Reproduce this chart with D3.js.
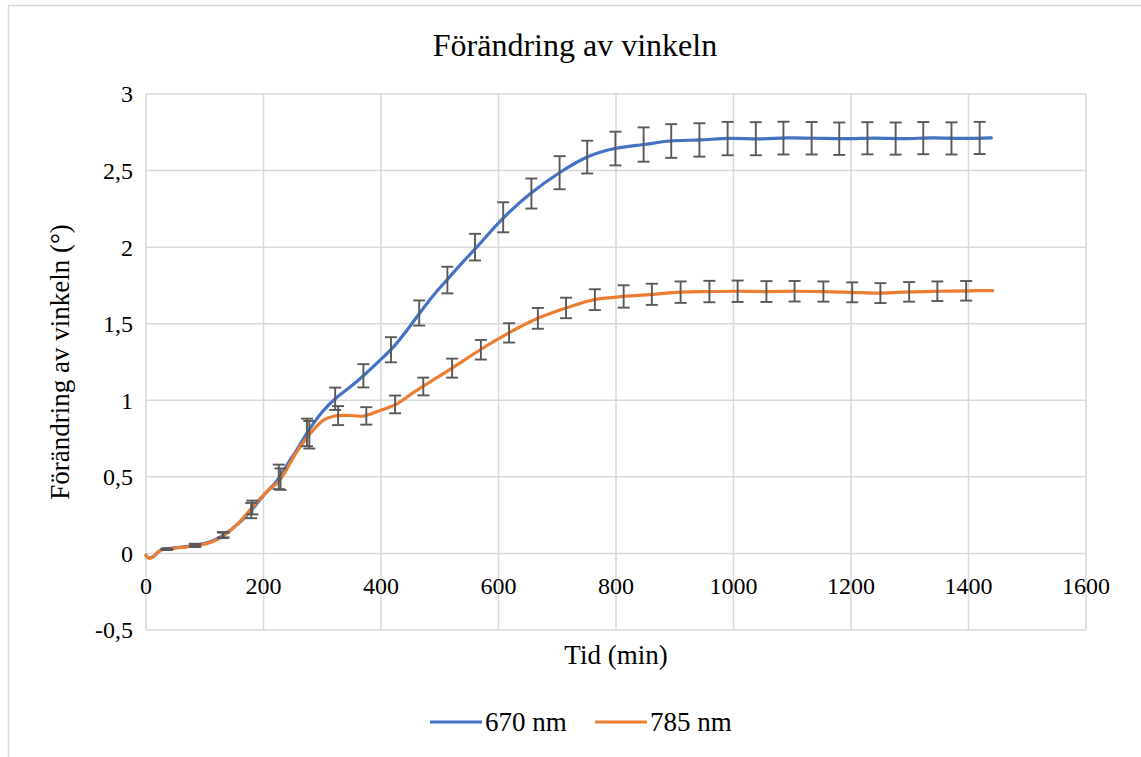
<!DOCTYPE html>
<html>
<head>
<meta charset="utf-8">
<script src="https://cdn.jsdelivr.net/npm/d3@7"></script>
<style>
  body { margin: 0; background: #fff; }
</style>
</head>
<body>
<svg id="chart"></svg>
<script>
// 670 nm series (time in min, change in degrees)
const time670 = [0, 4, 12, 21, 27, 46, 70, 92, 115, 137, 160, 183, 205, 222, 245, 256, 279, 302, 325, 347, 370, 398, 421, 444, 466, 489, 512, 540, 563, 608, 654, 705, 750, 773, 801, 847, 892, 943, 994, 1045, 1091, 1136, 1190, 1240, 1290, 1340, 1390, 1439];
const value670 = [-0.012, -0.028, -0.022, 0.01, 0.026, 0.035, 0.046, 0.059, 0.085, 0.133, 0.204, 0.3, 0.4, 0.47, 0.607, 0.672, 0.815, 0.933, 1.02, 1.085, 1.16, 1.26, 1.347, 1.456, 1.57, 1.684, 1.785, 1.905, 2.0, 2.19, 2.348, 2.489, 2.587, 2.62, 2.646, 2.67, 2.693, 2.7, 2.71, 2.707, 2.713, 2.711, 2.708, 2.712, 2.709, 2.713, 2.71, 2.714];

// 785 nm series
const time785 = [0, 4, 12, 21, 27, 46, 70, 92, 115, 137, 160, 183, 205, 228, 256, 279, 302, 319, 342, 370, 398, 427, 455, 483, 500, 523, 569, 620, 665, 716, 761, 812, 864, 909, 960, 1005, 1056, 1102, 1150, 1200, 1250, 1300, 1350, 1400, 1441];
const value785 = [-0.012, -0.03, -0.022, 0.01, 0.024, 0.033, 0.043, 0.055, 0.08, 0.13, 0.21, 0.31, 0.4, 0.48, 0.66, 0.78, 0.87, 0.896, 0.902, 0.897, 0.933, 0.977, 1.05, 1.118, 1.16, 1.215, 1.33, 1.445, 1.532, 1.604, 1.656, 1.678, 1.692, 1.706, 1.71, 1.712, 1.71, 1.712, 1.71, 1.705, 1.7, 1.708, 1.712, 1.715, 1.716];

// error bars (time, mean, +/- error)
const errTime670 = [36, 83, 131, 179, 226, 274, 322, 370, 417, 465, 513, 560, 608, 656, 704, 751, 799, 847, 894, 942, 990, 1038, 1085, 1133, 1180, 1228, 1276, 1323, 1371, 1419];
const errMean670 = [0.027, 0.055, 0.12, 0.28, 0.5, 0.79, 1.01, 1.16, 1.33, 1.57, 1.785, 2.0, 2.195, 2.35, 2.486, 2.588, 2.644, 2.67, 2.693, 2.7, 2.709, 2.708, 2.712, 2.711, 2.708, 2.711, 2.709, 2.712, 2.71, 2.713];
const errSize670 = [0.005, 0.008, 0.02, 0.05, 0.08, 0.09, 0.073, 0.076, 0.082, 0.082, 0.087, 0.087, 0.098, 0.098, 0.108, 0.107, 0.11, 0.112, 0.11, 0.109, 0.109, 0.108, 0.107, 0.106, 0.106, 0.105, 0.105, 0.105, 0.105, 0.105];

const errTime785 = [35, 84, 132, 181, 229, 278, 327, 375, 424, 472, 521, 570, 618, 667, 715, 764, 813, 861, 910, 959, 1007, 1056, 1104, 1153, 1202, 1250, 1299, 1347, 1396];
const errMean785 = [0.027, 0.05, 0.12, 0.3, 0.485, 0.775, 0.9, 0.898, 0.973, 1.09, 1.21, 1.33, 1.44, 1.535, 1.603, 1.657, 1.678, 1.692, 1.706, 1.71, 1.712, 1.71, 1.712, 1.71, 1.705, 1.7, 1.708, 1.712, 1.715];
const errSize785 = [0.004, 0.008, 0.015, 0.045, 0.07, 0.09, 0.062, 0.057, 0.058, 0.058, 0.062, 0.064, 0.063, 0.068, 0.067, 0.068, 0.073, 0.069, 0.07, 0.07, 0.07, 0.068, 0.067, 0.066, 0.065, 0.065, 0.064, 0.064, 0.064];

const xTicks = [0, 200, 400, 600, 800, 1000, 1200, 1400, 1600];
const yTicks = [-0.5, 0, 0.5, 1, 1.5, 2, 2.5, 3];
const seriesNames = ["670 nm", "785 nm"];
const colors = ["#4472C4", "#ED7D31"];

const width = 1141, height = 757;
const svg = d3.select("#chart").attr("width", width).attr("height", height)
  .attr("font-family", "'Liberation Serif', 'DejaVu Serif', 'Times New Roman', serif");

svg.append("rect")
  .attr("x", 8.5).attr("y", 5.5)
  .attr("width", 1300).attr("height", 900)
  .attr("fill", "#fff").attr("stroke", "#D9D9D9").attr("stroke-width", 1.5);

const x = d3.scaleLinear().domain([0, 1600]).range([146, 1086]);
const y = d3.scaleLinear().domain([-0.5, 3]).range([630, 94]);

// gridlines
const grid = svg.append("g");
grid.selectAll("line.h").data(yTicks).enter().append("line")
  .attr("x1", x(0)).attr("x2", x(1600))
  .attr("y1", d => y(d)).attr("y2", d => y(d))
  .attr("stroke", "#D9D9D9").attr("stroke-width", 1.5);
grid.selectAll("line.v").data(xTicks).enter().append("line")
  .attr("y1", y(3)).attr("y2", y(-0.5))
  .attr("x1", d => x(d)).attr("x2", d => x(d))
  .attr("stroke", "#D9D9D9").attr("stroke-width", 1.5);

// tick labels
const fmt = d => String(d).replace(".", ",");
svg.append("g").selectAll("text").data(xTicks).enter().append("text")
  .attr("x", d => x(d)).attr("y", y(0) + 41)
  .attr("text-anchor", "middle").attr("font-size", 24)
  .text(d => d);
svg.append("g").selectAll("text").data(yTicks).enter().append("text")
  .attr("x", 133).attr("y", d => y(d)).attr("dy", "0.35em")
  .attr("text-anchor", "end").attr("font-size", 24)
  .text(fmt);

// lines
const line = d3.line().x(d => x(d[0])).y(d => y(d[1])).curve(d3.curveCatmullRom.alpha(0.5));
const series = [
  d3.zip(time670, value670),
  d3.zip(time785, value785)
];
svg.append("g").selectAll("path").data(series).enter().append("path")
  .attr("d", line)
  .attr("fill", "none")
  .attr("stroke", (d, i) => colors[i])
  .attr("stroke-width", 3.2)
  .attr("stroke-linejoin", "round")
  .attr("stroke-linecap", "round");

// error bars
const bars = d3.zip(errTime670, errMean670, errSize670)
  .concat(d3.zip(errTime785, errMean785, errSize785));
const eb = svg.append("g").attr("stroke", "#595959").attr("stroke-width", 1.9).attr("fill", "none");
bars.forEach(([t, m, e]) => {
  const cx = x(t), y1 = y(m + e), y2 = y(m - e);
  eb.append("line").attr("x1", cx).attr("x2", cx).attr("y1", y1).attr("y2", y2);
  eb.append("line").attr("x1", cx - 6).attr("x2", cx + 6).attr("y1", y1).attr("y2", y1);
  eb.append("line").attr("x1", cx - 6).attr("x2", cx + 6).attr("y1", y2).attr("y2", y2);
});

// titles
svg.append("text")
  .attr("x", 575).attr("y", 56)
  .attr("text-anchor", "middle").attr("font-size", 32)
  .text("Förändring av vinkeln");
svg.append("text")
  .attr("x", x(800)).attr("y", 664)
  .attr("text-anchor", "middle").attr("font-size", 27)
  .text("Tid (min)");
svg.append("text")
  .attr("transform", `translate(69, ${(y(3) + y(-0.5)) / 2}) rotate(-90)`)
  .attr("text-anchor", "middle").attr("font-size", 27)
  .text("Förändring av vinkeln (°)");

// legend
const legend = svg.append("g");
const legendX = [430, 595];
seriesNames.forEach((name, i) => {
  legend.append("line")
    .attr("x1", legendX[i]).attr("x2", legendX[i] + 52)
    .attr("y1", 722).attr("y2", 722)
    .attr("stroke", colors[i]).attr("stroke-width", 3.2);
  legend.append("text")
    .attr("x", legendX[i] + 55).attr("y", 722).attr("dy", "0.35em")
    .attr("font-size", 27)
    .text(name);
});
</script>
</body>
</html>
